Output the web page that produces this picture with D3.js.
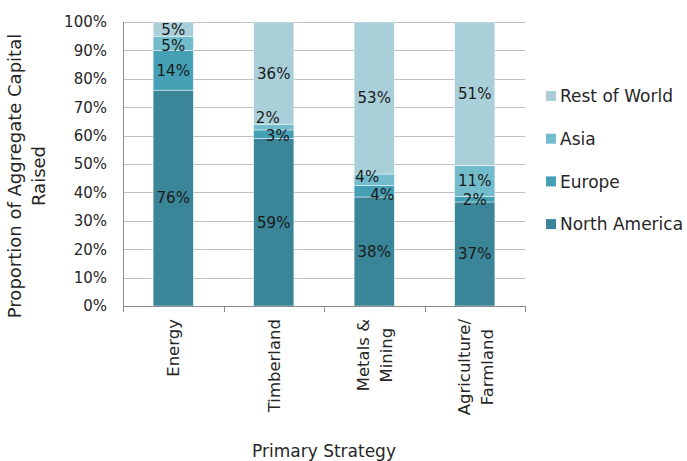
<!DOCTYPE html>
<html>
<head>
<meta charset="utf-8">
<script src="https://cdn.jsdelivr.net/npm/d3@7"></script>
<style>
  body { margin: 0; background: #fff; }
  svg { display: block; font-family: 'Century Gothic', 'DejaVu Sans', sans-serif; }
  .grid line { stroke: #c0c0c0; }
  .axis path, .axis line { stroke: #8c8c8c; }
</style>
</head>
<body>
<div id="chart"></div>
<script>
// Chart data
var categories = ['Energy', 'Timberland', 'Metals & Mining', 'Agriculture/ Farmland'];
var categoryLines = [['Energy'], ['Timberland'], ['Metals &', 'Mining'], ['Agriculture/', 'Farmland']];
var seriesNames = ['North America', 'Europe', 'Asia', 'Rest of World'];
var northAmerica = [76, 59, 38, 37];
var europe = [14, 3, 4, 2];
var asia = [5, 2, 4, 11];
var restOfWorld = [5, 36, 53, 51];
var yTicks = [0, 0.1, 0.2, 0.3, 0.4, 0.5, 0.6, 0.7, 0.8, 0.9, 1];

var colors = ['#3b8598', '#45a0b5', '#73bccc', '#a9cfd9'];

// label nudges for the small segments (moved by hand in the original)
var nudge = {
    'Timberland|Asia': [-6, -9],
    'Timberland|Europe': [4, 1],
    'Metals & Mining|Asia': [-7, -3],
    'Metals & Mining|Europe': [8, 3],
    'Energy|Asia': [0, 2]
};

var chartWidth = 687, chartHeight = 461;
var plotLeft = 123, plotRight = 525, plotTop = 22, plotBottom = 306;

var svg = d3.select('#chart')
    .append('svg')
    .attr('width', chartWidth)
    .attr('height', chartHeight);

// Build rows for the stack
var rows = categories.map((c, i) => ({
    category: c,
    'North America': northAmerica[i],
    'Europe': europe[i],
    'Asia': asia[i],
    'Rest of World': restOfWorld[i]
}));

var stacked = d3.stack()
    .keys(seriesNames)
    .offset(d3.stackOffsetExpand)(rows);

var xScale = d3.scaleBand()
    .domain(categories)
    .range([plotLeft, plotRight])
    .paddingInner(0.6)
    .paddingOuter(0.3);

var yScale = d3.scaleLinear()
    .domain([0, 1])
    .range([plotBottom, plotTop]);

// gridlines
svg.append('g')
    .attr('class', 'grid')
    .selectAll('line')
    .data(yTicks.slice(1))
    .enter()
    .append('line')
    .attr('x1', plotLeft)
    .attr('x2', plotRight)
    .attr('y1', (d) => Math.round(yScale(d)) + 0.5)
    .attr('y2', (d) => Math.round(yScale(d)) + 0.5);

// y tick labels
svg.append('g')
    .selectAll('text')
    .data(yTicks)
    .enter()
    .append('text')
    .attr('x', 107)
    .attr('y', (d) => yScale(d))
    .attr('dy', '0.36em')
    .attr('text-anchor', 'end')
    .style('font-size', '15px')
    .style('fill', '#262626')
    .text(d3.format('.0%'));

// bars
var layer = svg.append('g')
    .selectAll('g')
    .data(stacked)
    .enter()
    .append('g')
    .style('fill', (d, i) => colors[i]);

layer.selectAll('rect')
    .data((d) => d)
    .enter()
    .append('rect')
    .attr('x', (d) => xScale(d.data.category))
    .attr('y', (d) => yScale(d[1]))
    .attr('width', xScale.bandwidth())
    .attr('height', (d) => yScale(d[0]) - yScale(d[1]))
    .style('stroke', 'rgba(255,255,255,0.6)')
    .style('stroke-width', 0.75);

// value labels
stacked.forEach((s) => {
    svg.append('g')
        .selectAll('text')
        .data(s)
        .enter()
        .append('text')
        .attr('x', (d) => {
            var n = nudge[d.data.category + '|' + s.key] || [0, 0];
            return xScale(d.data.category) + xScale.bandwidth() / 2 + n[0];
        })
        .attr('y', (d) => {
            var n = nudge[d.data.category + '|' + s.key] || [0, 0];
            return yScale((d[0] + d[1]) / 2) + n[1];
        })
        .attr('dy', '0.36em')
        .attr('text-anchor', 'middle')
        .style('font-size', '15px')
        .style('fill', '#1a1a1a')
        .text((d) => d.data[s.key] + '%');
});

// axes lines
var xAxis = d3.axisBottom(xScale).tickSize(0).tickFormat('');
svg.append('g')
    .attr('class', 'axis')
    .attr('transform', `translate(0, ${plotBottom + 0.5})`)
    .call(xAxis)
    .select('.domain')
    .attr('d', `M${plotLeft},0H${plotRight}`);

svg.append('line')
    .attr('x1', plotLeft + 0.5).attr('x2', plotLeft + 0.5)
    .attr('y1', plotTop).attr('y2', plotBottom)
    .style('stroke', '#8c8c8c');

// category boundary ticks
var step = xScale.step();
svg.append('g')
    .selectAll('line')
    .data(d3.range(categories.length + 1))
    .enter()
    .append('line')
    .attr('x1', (i) => Math.round(plotLeft + i * step) + 0.5)
    .attr('x2', (i) => Math.round(plotLeft + i * step) + 0.5)
    .attr('y1', plotBottom)
    .attr('y2', plotBottom + 6)
    .style('stroke', '#8c8c8c');

// category labels (rotated), multi-line ones centred on each other
categories.forEach((c, i) => {
    var lines = categoryLines[i];
    var cx = xScale(c) + xScale.bandwidth() / 2;
    var offsets = lines.length === 1 ? [6] : [-5, 18];
    var texts = lines.map((t, j) => svg.append('text')
        .attr('transform', `translate(${cx + offsets[j]}, 319) rotate(-90)`)
        .attr('text-anchor', 'middle')
        .style('font-size', '16.5px')
        .style('fill', '#262626')
        .text(t));
    var maxLen = d3.max(texts, (t) => t.node().getComputedTextLength());
    texts.forEach((t) => t.attr('x', -maxLen / 2));
});

// y axis title
var yTitle = svg.append('text')
    .attr('transform', 'translate(21, 176) rotate(-90)')
    .attr('text-anchor', 'middle')
    .style('font-size', '18px')
    .style('fill', '#262626');
yTitle.append('tspan').attr('x', 0).attr('y', 0).text('Proportion of Aggregate Capital');
yTitle.append('tspan').attr('x', 0).attr('y', 24).text('Raised');

// x axis title
svg.append('text')
    .attr('x', 324)
    .attr('y', 457)
    .attr('text-anchor', 'middle')
    .style('font-size', '17px')
    .style('fill', '#262626')
    .text('Primary Strategy');

// legend (reversed order)
var legend = svg.append('g')
    .selectAll('g')
    .data(seriesNames.slice().reverse())
    .enter()
    .append('g')
    .attr('transform', (d, i) => `translate(546, ${96 + i * 42.7})`);

legend.append('rect')
    .attr('x', 0)
    .attr('y', -5)
    .attr('width', 10)
    .attr('height', 10)
    .style('fill', (d) => colors[seriesNames.indexOf(d)]);

legend.append('text')
    .attr('x', 14)
    .attr('y', 0)
    .attr('dy', '0.36em')
    .style('font-size', '17px')
    .style('fill', '#262626')
    .text((d) => d);
</script>
</body>
</html>
